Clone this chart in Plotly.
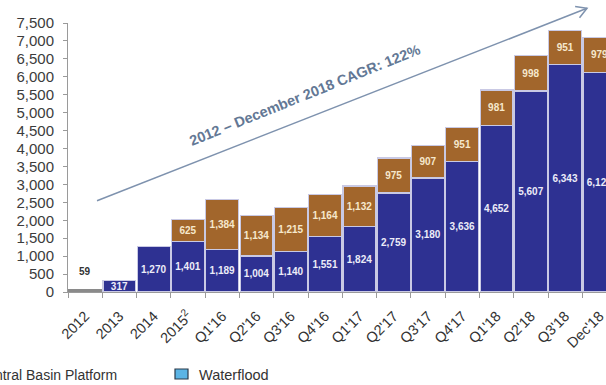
import math
import plotly.graph_objects as go

# Period labels along the x axis
categories = ["2012", "2013", "2014", "2015<sup>2</sup>",
              "Q1'16", "Q2'16", "Q3'16", "Q4'16",
              "Q1'17", "Q2'17", "Q3'17", "Q4'17",
              "Q1'18", "Q2'18", "Q3'18", "Dec'18"]

# Lower (blue) segment values
base_values = [59, 317, 1270, 1401, 1189, 1004, 1140, 1551,
               1824, 2759, 3180, 3636, 4652, 5607, 6343, 6124]

# Upper (brown) segment values
top_values = [None, None, None, 625, 1384, 1134, 1215, 1164,
              1132, 975, 907, 951, 981, 998, 951, 979]

y_tick_values = list(range(0, 7501, 500))

NAVY = "#2E3192"
BROWN = "#A2662C"
GRAY = "#8A8A8A"
EDGE = "#C9C9E4"
FONT = "Liberation Sans"

# Figure geometry (pixels)
W, H = 606, 385
M_L, M_R, M_T, M_B = 68, 0, 23, 93
PLOT_W = W - M_L - M_R
PLOT_H = H - M_T - M_B
CAT_W = 34.29  # pixels per category


def to_paper(px, py):
    """Convert page pixel coordinates to paper coordinates."""
    return (px - M_L) / PLOT_W, (H - M_B - py) / PLOT_H


def fmt(v):
    return "" if v is None else f"{v:,}"


base_colors = [GRAY] + [NAVY] * (len(base_values) - 1)
base_edges = [GRAY] + [EDGE] * (len(base_values) - 1)
base_text = [""] + [fmt(v) for v in base_values[1:]]

fig = go.Figure()

fig.add_trace(go.Bar(
    x=categories, y=base_values,
    marker=dict(color=base_colors, line=dict(color=base_edges, width=1.2)),
    text=base_text, textposition="inside", insidetextanchor="middle",
    textangle=0, constraintext="none",
    textfont=dict(family=FONT, size=10, color="#ECECF8", weight="bold"),
    hoverinfo="skip", showlegend=False,
))

fig.add_trace(go.Bar(
    x=categories, y=top_values,
    marker=dict(color=BROWN, line=dict(color=EDGE, width=1.2)),
    text=[fmt(v) for v in top_values], textposition="inside",
    insidetextanchor="middle", textangle=0, constraintext="none",
    textfont=dict(family=FONT, size=10, color="#F6E8CC", weight="bold"),
    hoverinfo="skip", showlegend=False,
))

# Label for the very small first bar, set above it
fig.add_annotation(
    x=0, y=base_values[0], xref="x", yref="y", text=fmt(base_values[0]),
    showarrow=False, yanchor="bottom", yshift=11,
    font=dict(family=FONT, size=10, color="#333333", weight="bold"),
)

# Growth arrow with an open arrowhead
arrow_start = (97, 200.7)
arrow_end = (587, 8.3)
dx, dy = arrow_end[0] - arrow_start[0], arrow_end[1] - arrow_start[1]
norm = (dx ** 2 + dy ** 2) ** 0.5
ux, uy = dx / norm, dy / norm
head_len, head_ang = 12, math.radians(30)
arms = []
for s in (1, -1):
    c, sn = math.cos(s * head_ang), math.sin(s * head_ang)
    bx, by = -ux, -uy
    rx, ry = bx * c - by * sn, bx * sn + by * c
    arms.append((arrow_end[0] + rx * head_len, arrow_end[1] + ry * head_len))

p0 = to_paper(*arrow_start)
p1 = to_paper(*arrow_end)
a1 = to_paper(*arms[0])
a2 = to_paper(*arms[1])
ARROW = "#7E92AE"
fig.add_shape(type="line", xref="paper", yref="paper",
              x0=p0[0], y0=p0[1], x1=p1[0], y1=p1[1],
              line=dict(color=ARROW, width=1.5))
fig.add_shape(type="path", xref="paper", yref="paper",
              path=f"M {a1[0]} {a1[1]} L {p1[0]} {p1[1]} L {a2[0]} {a2[1]}",
              line=dict(color=ARROW, width=1.5))

tx, ty = to_paper(305, 95)
fig.add_annotation(
    x=tx, y=ty, xref="paper", yref="paper",
    text="2012 – December 2018 CAGR: 122%", textangle=-22,
    showarrow=False, xanchor="center", yanchor="middle",
    font=dict(family=FONT, size=14.5, color="#637895", weight="bold"),
)

# Legend entries along the bottom
lx, ly = to_paper(119, 375)
fig.add_annotation(
    x=lx, y=ly, xref="paper", yref="paper", text="Central Basin Platform",
    showarrow=False, xanchor="right", yanchor="middle",
    font=dict(family=FONT, size=14, color="#333333"),
)
r0 = to_paper(175, 369)
r1 = to_paper(188, 379)
fig.add_shape(type="rect", xref="paper", yref="paper",
              x0=r0[0], y0=r0[1], x1=r1[0], y1=r1[1],
              fillcolor="#5BB4E5", line=dict(color="#2B3A4A", width=1.2))
wx, wy = to_paper(197, 375)
fig.add_annotation(
    x=wx, y=wy, xref="paper", yref="paper", text="Waterflood",
    showarrow=False, xanchor="left", yanchor="middle",
    font=dict(family=FONT, size=14.5, color="#333333"),
)

fig.update_layout(
    width=W, height=H,
    margin=dict(l=M_L, r=M_R, t=M_T, b=M_B),
    barmode="stack", bargap=0.04,
    plot_bgcolor="white", paper_bgcolor="white",
    font=dict(family=FONT),
)

fig.update_xaxes(
    type="category",
    range=[-0.5, -0.5 + PLOT_W / CAT_W],
    showgrid=False, showline=True, linecolor="#9A9A9A", linewidth=1,
    ticks="outside", tickson="boundaries", ticklen=5, tickcolor="#9A9A9A",
    ticklabelstandoff=9,
    tickangle=-45, tickfont=dict(family=FONT, size=14.5, color="#333333"),
    fixedrange=True,
)

fig.update_yaxes(
    range=[0, 7500], tickvals=y_tick_values,
    ticktext=[f"{v:,}" for v in y_tick_values],
    showgrid=False, zeroline=False, showline=True,
    linecolor="#9A9A9A", linewidth=1,
    ticks="outside", ticklen=4, tickcolor="#9A9A9A",
    ticklabelstandoff=6,
    tickfont=dict(family=FONT, size=15, color="#3C3C3C"),
    fixedrange=True,
)

fig.write_html("out.html")
